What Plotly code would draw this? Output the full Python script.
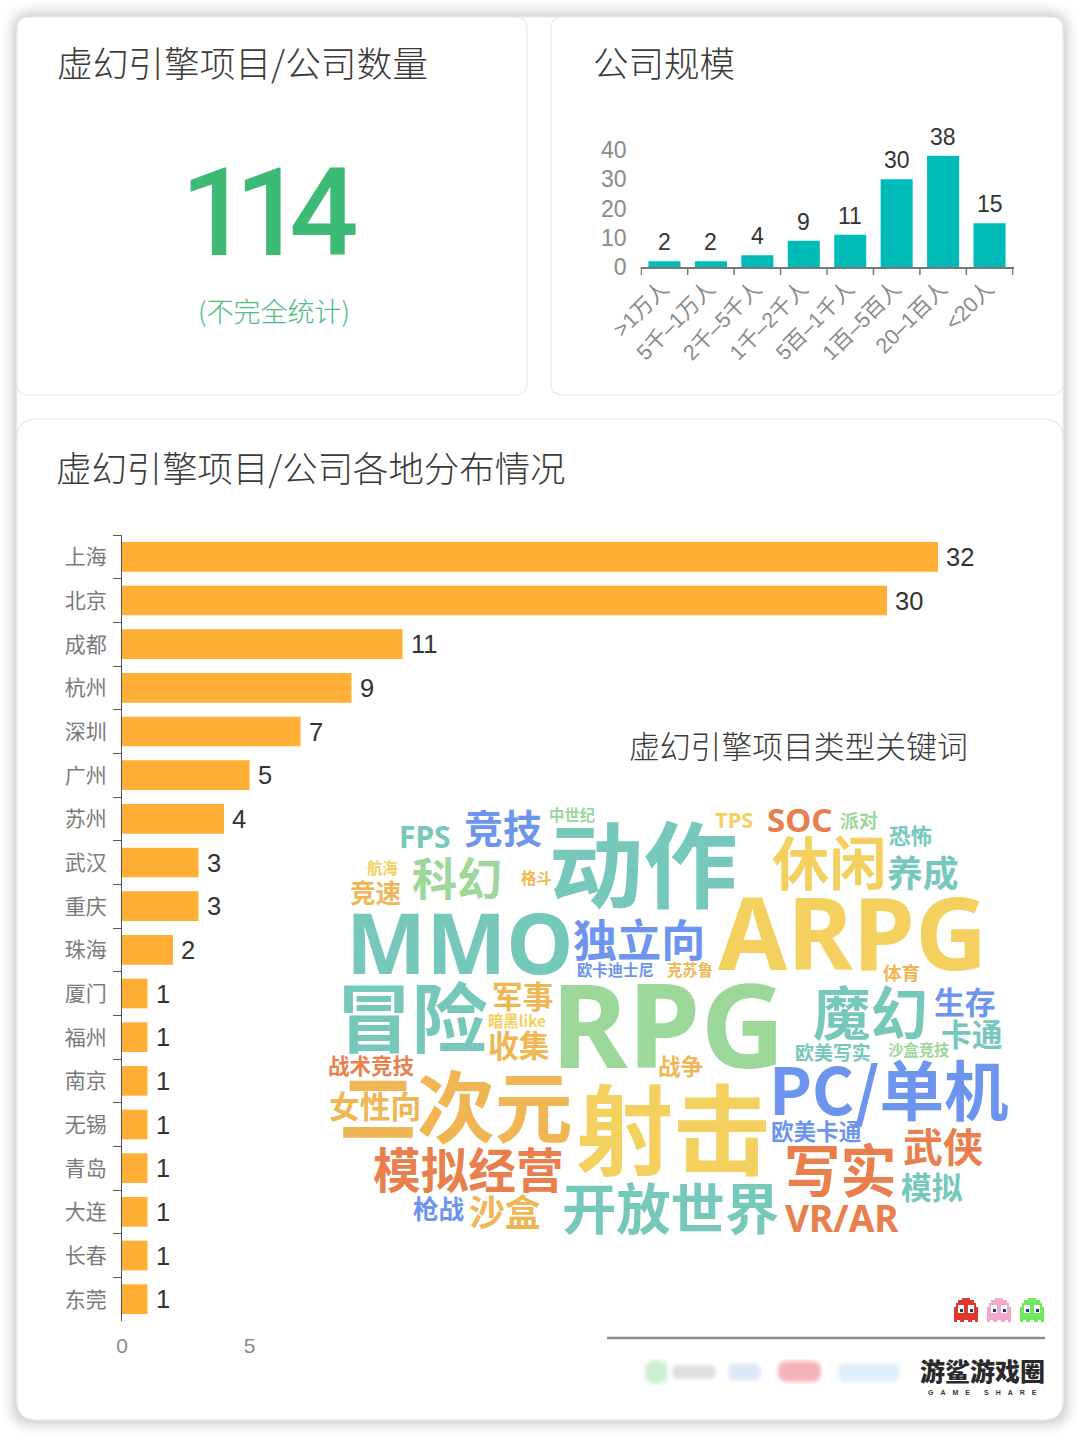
import plotly.graph_objects as go

W, H = 1080, 1440

# ---- data ----
size_categories = [">1万人", "5千–1万人", "2千–5千人", "1千–2千人", "5百–1千人", "1百–5百人", "20–1百人", "<20人"]
size_values = [2, 2, 4, 9, 11, 30, 38, 15]
size_ticks = [0, 10, 20, 30, 40]

cities = ["上海", "北京", "成都", "杭州", "深圳", "广州", "苏州", "武汉", "重庆", "珠海",
          "厦门", "福州", "南京", "无锡", "青岛", "大连", "长春", "东莞"]
city_values = [32, 30, 11, 9, 7, 5, 4, 3, 3, 2, 1, 1, 1, 1, 1, 1, 1, 1]
city_ticks = [0, 5]

total_count = "114"
total_note = "(不完全统计)"
title_count = "虚幻引擎项目/公司数量"
title_size = "公司规模"
title_city = "虚幻引擎项目/公司各地分布情况"
title_words = "虚幻引擎项目类型关键词"
brand_name = "游鲨游戏圈"
brand_sub = "G\u2003A\u2003M\u2003E\u2003\u2003S\u2003H\u2003A\u2003R\u2003E"

words = ["动作", "MMO", "ARPG", "RPG", "冒险", "魔幻", "二次元", "射击", "PC/单机", "写实", "模拟经营",
         "开放世界", "VR/AR", "武侠", "模拟", "沙盒", "枪战", "欧美卡通", "女性向", "战术竞技", "收集", "军事",
         "暗黑like", "战争", "欧美写实", "沙盒竞技", "卡通", "生存", "体育", "欧卡迪士尼", "克苏鲁", "独立向",
         "科幻", "竞速", "航海", "格斗", "FPS", "竞技", "中世纪", "TPS", "SOC", "派对", "恐怖", "休闲", "养成"]

# ---- word cloud placement (pixel centre x, y, glyph size, colour key), same order as words ----
T, Y, G, O, R, B = "#76c8bb", "#f4d05e", "#9bd89a", "#f0b654", "#e87f4c", "#6d94ee"
word_layout = [
    (643, 864, 92, T), (460, 941, 85, T), (852, 931, 100, Y), (668, 1022, 117, G), (412, 1017, 74, T),
    (870, 1013, 56, T), (456, 1106, 76, O), (673, 1129, 95, Y), (889, 1090, 63, B), (840, 1170, 55, R),
    (468, 1170, 46.5, R), (670, 1208, 53, T), (842, 1217, 37, R), (943, 1147, 39, R), (932, 1187, 30, T),
    (505, 1212, 35, O), (439, 1209, 25, B), (816, 1131, 22, B), (375, 1106, 30, O), (371, 1065, 21, R),
    (519, 1045, 30, O), (523, 996, 30, O), (517, 1021, 15, Y), (680, 1066, 22, O), (833, 1052, 18.5, T),
    (919, 1050, 15, G), (972, 1034, 30, T), (965, 1002, 30, B), (901, 973, 18, O), (615, 970, 15, B),
    (690, 970, 15, O), (639, 940, 43, B), (457, 878, 44, G), (375, 893, 25, O), (382, 868, 15, Y),
    (536, 878, 15, O), (425, 836, 30, T), (503, 828, 38, B), (572, 815, 15, G), (734, 819, 22, Y),
    (799, 819, 33, R), (859, 820, 18.5, G), (910, 835, 21, T), (829, 863, 56, Y), (923, 873, 35, T),
]

FONT = "'Liberation Sans', 'Noto Sans CJK SC', sans-serif"
WFONT = "'Noto Sans', 'Noto Sans CJK SC', sans-serif"
CJK = "'Noto Sans CJK SC', sans-serif"


def px(x):
    return x / W


def py(y):
    return 1 - y / H


def rrect(x0, y0, x1, y1, r):
    return (f"M{px(x0+r)},{py(y0)} L{px(x1-r)},{py(y0)} Q{px(x1)},{py(y0)} {px(x1)},{py(y0+r)} "
            f"L{px(x1)},{py(y1-r)} Q{px(x1)},{py(y1)} {px(x1-r)},{py(y1)} L{px(x0+r)},{py(y1)} "
            f"Q{px(x0)},{py(y1)} {px(x0)},{py(y1-r)} L{px(x0)},{py(y0+r)} Q{px(x0)},{py(y0)} {px(x0+r)},{py(y0)} Z")


shapes = []


def card(x0, y0, x1, y1, r=12, line="#e8e8e8", fill="#ffffff", width=1.2):
    shapes.append(dict(type="path", xref="paper", yref="paper", path=rrect(x0, y0, x1, y1, r),
                       fillcolor=fill, line=dict(color=line, width=width), layer="below"))


# outer soft shadow: stacked translucent outlines, densest at the card edge
for g in range(17, 0, -1):
    shapes.append(dict(type="path", xref="paper", yref="paper",
                       path=rrect(17 - g, 17 - g, 1063 + g, 1420 + g, 18 + g),
                       fillcolor=f"rgba(0,0,0,{0.0025 + 0.0009 * (17 - g):.4f})",
                       line=dict(width=0), layer="below"))
card(17, 17, 1063, 1420, 20, line="#f0f0f0")
card(17, 17, 527, 395)
card(551, 17, 1063, 395)
card(17, 419, 1063, 1420, 20)

# boundary ticks of the company-size axis, placed on the category scale
for i in range(len(size_categories) + 1):
    shapes.append(dict(type="line", xref="x", yref="paper", x0=i - 0.5, x1=i - 0.5, y0=py(267), y1=py(275),
                       line=dict(color="#777777", width=1.5)))


def rect(x0, y0, x1, y1, color, op=1.0):
    shapes.append(dict(type="rect", xref="paper", yref="paper", x0=px(x0), x1=px(x1), y0=py(y0), y1=py(y1),
                       fillcolor=color, opacity=op, line=dict(width=0)))


def pill(x0, y0, x1, y1, r, color, op):
    shapes.append(dict(type="path", xref="paper", yref="paper", path=rrect(x0, y0, x1, y1, r),
                       fillcolor=color, opacity=op, line=dict(width=0)))


# footer rule
rect(607, 1336.8, 1045, 1339.2, "#8c8c8c")


# ghosts
def ghost(cx, body):
    x0 = cx - 12
    top = 1298
    p = [(x0 + 8, top), (x0 + 16, top), (x0 + 16, top + 2), (x0 + 20, top + 2), (x0 + 20, top + 5), (x0 + 22, top + 5),
         (x0 + 22, top + 9), (x0 + 24, top + 9), (x0 + 24, top + 24), (x0 + 21, top + 24), (x0 + 21, top + 22),
         (x0 + 18, top + 22), (x0 + 18, top + 24), (x0 + 14, top + 24), (x0 + 14, top + 22), (x0 + 10, top + 22),
         (x0 + 10, top + 24), (x0 + 6, top + 24), (x0 + 6, top + 22), (x0 + 3, top + 22), (x0 + 3, top + 24),
         (x0, top + 24), (x0, top + 9), (x0 + 2, top + 9), (x0 + 2, top + 5), (x0 + 4, top + 5), (x0 + 4, top + 2),
         (x0 + 8, top + 2)]
    path = "M" + " L".join(f"{px(a)},{py(b)}" for a, b in p) + " Z"
    shapes.append(dict(type="path", xref="paper", yref="paper", path=path, fillcolor=body, line=dict(width=0)))
    for ex in (x0 + 4, x0 + 14):
        rect(ex, top + 7, ex + 6, top + 15, "#ffffff")
        rect(ex + 2, top + 11, ex + 5, top + 14, "#26327a")


ghost(966, "#e0362c")
ghost(999, "#f2a8c8")
ghost(1032, "#6ee85c")

# soft, unreadable partner marks in the footer
for g in (5, 4, 3, 2, 1, 0):
    a = 0.055
    pill(648 - g, 1363 - g, 665 + g, 1381 + g, 8 + g, "#6fd47f", a * 1.3)
    pill(675 - g, 1368 - g, 713 + g, 1376 + g, 4 + g, "#9a9a9a", a)
    pill(731 - g, 1366 - g, 758 + g, 1378 + g, 5 + g, "#8fb5f5", a)
    pill(781 - g, 1364 - g, 818 + g, 1379 + g, 7 + g, "#f06a78", a * 2)
    pill(841 - g, 1366 - g, 897 + g, 1379 + g, 6 + g, "#a6d4f2", a * 1.3)

annotations = []


def note(text, x, y, size, color, family=CJK, weight=None, anchor="center"):
    annotations.append(dict(text=text, xref="paper", yref="paper", x=px(x), y=py(y), xanchor=anchor, yanchor="middle",
                            showarrow=False, align="center",
                            font=dict(family=family, size=size, color=color, weight=weight)))


note(title_count, 55, 62, 35.7, "#3a3a3a", anchor="left", weight=300)
note(title_size, 591, 62, 35.5, "#3a3a3a", anchor="left", weight=300)
note(title_city, 54, 466.5, 35.4, "#3a3a3a", anchor="left", weight=300)
note(title_words, 627, 744, 30.8, "#3a3a3a", anchor="left", weight=300)
note(total_count, 262, 213, 122, "#3dba75", family="Roboto, 'Liberation Sans'", weight=500)
note(total_note, 274, 310, 27, "#4dbd80", weight=300)
note(brand_name, 982, 1370, 25, "#2a2a2a", weight=900)
note(brand_sub, 982, 1392, 7, "#333333", family=FONT, weight=700)

for w, (x, y, s, c) in zip(words, word_layout):
    if w.isascii():
        note(w, x, y, s, c, family=WFONT, weight=700)
    else:
        note(w, x, y - 0.045 * s, s * 1.025, c, family=CJK, weight=700)

# value labels sit on the data through the axes' own scales
for cat, val in zip(size_categories, size_values):
    annotations.append(dict(text=str(val), x=cat, y=val, xref="x", yref="y", yanchor="bottom", showarrow=False,
                            yshift=4, font=dict(family=FONT, size=23, color="#333333")))
for city, val in zip(cities, city_values):
    annotations.append(dict(text=str(val), x=val, y=city, xref="x2", yref="y2", xanchor="left", showarrow=False,
                            xshift=6, font=dict(family=FONT, size=25.5, color="#333333")))

fig = go.Figure()

# company size chart
fig.add_trace(go.Bar(x=size_categories, y=size_values, xaxis="x", yaxis="y", width=0.69,
                     marker=dict(color="#00bcb8", line=dict(width=0)), hoverinfo="skip"))

# city chart
fig.add_trace(go.Bar(y=cities, x=city_values, orientation="h", xaxis="x2", yaxis="y2", width=0.68,
                     marker=dict(color="#ffae36", line=dict(width=0)), hoverinfo="skip"))

fig.update_layout(
    width=W, height=H, margin=dict(l=0, r=0, t=0, b=0, autoexpand=False),
    paper_bgcolor="#ffffff", plot_bgcolor="rgba(0,0,0,0)", showlegend=False,
    font=dict(family=FONT),
    shapes=shapes, annotations=annotations,
    xaxis=dict(domain=[px(640.5), px(1013.5)], anchor="y", type="category", ticks="", showline=True,
               linecolor="#777777", linewidth=1.5, showgrid=False, tickangle=-45, ticklabelstandoff=-1,
               ticklabelshift=-2, tickfont=dict(family=FONT, size=21.5, color="#8a8a8a")),
    yaxis=dict(domain=[py(267), py(150)], anchor="x", range=[0, 40], tickvals=size_ticks, showgrid=False,
               zeroline=False, showline=False, ticks="", ticklabelstandoff=13,
               tickfont=dict(family=FONT, size=23, color="#8a8a8a")),
    xaxis2=dict(domain=[px(122), px(1020)], anchor="y2", range=[0, (1020 - 122) / 25.5], tickvals=city_ticks,
                showgrid=False, zeroline=False, showline=False, ticks="", ticklabelstandoff=10,
                tickfont=dict(family=FONT, size=21, color="#8a8a8a")),
    yaxis2=dict(domain=[py(1321), py(535)], anchor="x2", type="category", autorange="reversed",
                tickson="boundaries", ticks="outside", ticklen=8, tickcolor="#555555", tickwidth=1.2, showline=True,
                linecolor="#555555", linewidth=1.2, showgrid=False, ticklabelstandoff=10,
                tickfont=dict(family=FONT, size=21, color="#7a7a7a")),
)

post = """
document.body.style.margin='0';document.body.style.overflow='hidden';
function tightenTotal(){document.querySelectorAll('.annotation-text').forEach(function(t){
  if(t.textContent==='114'){t.style.letterSpacing='-15px';}});}
tightenTotal();setTimeout(tightenTotal,50);
"""
fig.write_html("out.html", post_script=post, config=dict(displayModeBar=False))
